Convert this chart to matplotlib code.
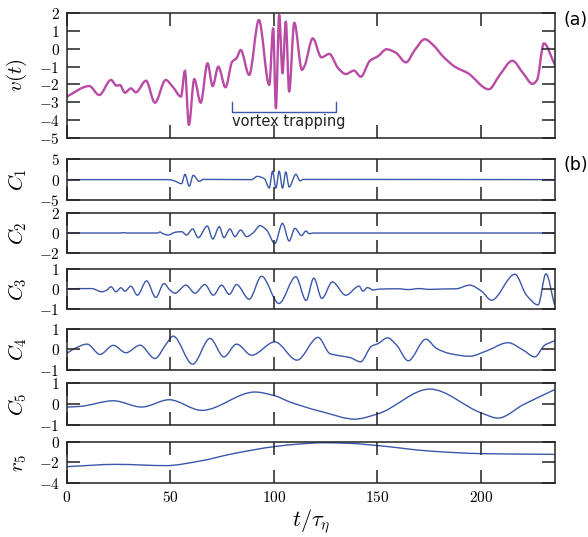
import numpy as np
import matplotlib.pyplot as plt
from matplotlib.path import Path
from matplotlib.patches import PathPatch

plt.rcParams['font.family'] = 'cmr10'
plt.rcParams['mathtext.fontset'] = 'cm'
plt.rcParams['axes.formatter.use_mathtext'] = True

# velocity signal v(t)
v_t = [0, 10.9, 15.7, 21.4, 24.1, 25.7, 28.1, 31.0, 33.4, 38.3, 42.6, 47.8, 51.4,
       55.2, 57.1, 59.0, 61.6, 64.7, 68.0, 70.5, 73.2, 76.7, 79.9, 82.0, 84.0,
       88.1, 92.8, 97.8, 99.7, 101.0, 102.6, 104.2, 105.8, 107.4, 109.9, 113.6,
       115.0, 118.8, 123.0, 126.8, 131.1, 134.8, 138.7, 142.0, 146.4, 150.4,
       154.4, 158.9, 163.8, 168.1, 172.9, 176.9, 181.8, 187.4, 193.8, 203.8,
       209.1, 215.2, 220.4, 224.9, 227.1, 230.4, 235.5]
v_val = [-2.68, -2.09, -2.59, -1.75, -2.07, -2.03, -2.46, -2.22, -2.44, -1.79,
         -3.02, -1.75, -2.16, -2.68, -1.23, -4.26, -1.70, -3.02, -0.82, -2.09,
         -1.01, -2.16, -0.73, -0.54, -0.08, -1.47, 1.59, -2.03, 1.13, -3.33,
         1.87, -1.38, 1.50, -2.40, 1.44, -1.19, -0.92, 0.57, -0.49, -0.30,
         -1.10, -1.42, -1.23, -1.57, -0.68, -0.42, -0.04, -0.23, -0.77, -0.08,
         0.52, 0.20, -0.45, -1.01, -1.38, -2.27, -1.47, -0.68, -1.38, -1.97,
         -1.75, 0.29, -0.86]

# intrinsic modes C1..C5 and residual r5
c1_t = [0, 49.0, 52.0, 55.5, 57.1, 59.2, 61.1, 64.0, 65.9, 89.3, 92.0, 95.5,
        97.8, 99.4, 101.0, 102.6, 104.2, 105.8, 107.4, 110.7, 112.6, 114.2, 235.5]
c1_val = [0, 0, -0.3, -1.0, 1.3, -1.6, 1.06, -0.42, 0.05, 0, 0.8, 0.2,
          -2.06, 2.1, -2.1, 2.1, -2.1, 1.9, -1.8, 1.3, -0.3, 0.05, 0]

c2_t = [0, 26.0, 27.5, 29.0, 44.0, 45.0, 46.5, 49.0, 52.3, 55.5, 57.9, 60.8,
        63.5, 67.9, 70.5, 73.7, 75.9, 78.8, 81.2, 84.0, 86.9, 90.1, 93.3, 96.5,
        100.5, 104.2, 107.4, 110.2, 113.4, 115.5, 117.1, 119.0, 235.5]
c2_val = [0, 0, 0.04, 0, 0, 0.1, -0.07, -0.2, 0.07, 0.13, -0.2, 0.4, -0.46,
          0.69, -0.59, 0.62, -0.46, 0.4, -0.36, 0.3, -0.36, 0.03, 0.72, 0.3,
          -1.02, 0.95, -0.79, 0.46, -0.26, 0.2, -0.07, 0, 0]

c3_t = [0, 12.1, 16.9, 19.3, 21.4, 23.8, 26.2, 28.1, 31.0, 34.1, 38.6, 43.0,
        47.0, 49.9, 52.3, 57.6, 61.9, 66.7, 70.8, 74.8, 78.5, 82.0, 88.1, 94.1,
        102.5, 110.6, 115.6, 119.3, 123.2, 128.3, 134.7, 141.2, 143.0, 145.2,
        148.0, 150.5, 160.0, 165.0, 170.0, 175.0, 182.0, 188.0, 194.6, 200.3,
        205.1, 216.4, 222.0, 227.6, 231.4, 235.5]
c3_val = [0.02, 0.03, -0.13, -0.05, 0.12, -0.13, 0.07, -0.1, 0.15, -0.3, 0.41,
          -0.41, 0.28, -0.05, -0.2, 0.2, -0.2, 0.23, -0.3, 0.2, -0.26, 0.23,
          -0.5, 0.64, -0.71, 0.62, -0.56, 0.55, -0.46, 0.36, -0.3, 0.15, -0.1,
          0.08, -0.04, 0, 0.02, -0.02, 0.03, -0.01, 0.01, 0.02, 0.2, -0.1,
          -0.55, 0.74, -0.3, -0.78, 0.76, -0.76]

c4_t = [0, 3.0, 9.9, 16.1, 22.5, 28.6, 35.4, 42.6, 48.2, 51.4, 60.8, 69.2,
        75.9, 82.0, 89.3, 100.5, 111.2, 121.4, 127.1, 131.9, 136.7, 141.9,
        147.2, 150.4, 154.9, 159.3, 164.9, 173.4, 178.6, 185.0, 194.6, 202.7,
        213.1, 220.4, 226.0, 230.8, 235.5]
c4_val = [-0.2, 0.0, 0.26, -0.24, 0.2, -0.16, 0.21, -0.44, 0.29, 0.65, -0.72,
          0.54, -0.36, 0.26, -0.28, 0.37, -0.52, 0.59, -0.2, -0.31, -0.39,
          -0.6, 0.16, 0.29, 0.57, 0.21, -0.55, 0.5, 0.05, -0.2, -0.33, -0.07,
          0.33, -0.03, -0.36, 0.21, 0.42]

c5_t = [0, 6.4, 22.5, 36.2, 49.5, 65.2, 90.9, 100.5, 107.8, 112.6, 123.8,
        139.1, 150.4, 175.3, 200.3, 208.3, 220.4, 235.5]
c5_val = [-0.14, -0.11, 0.16, -0.14, 0.21, -0.3, 0.58, 0.40, 0.1, -0.06,
          -0.38, -0.72, -0.46, 0.72, -0.43, -0.67, -0.03, 0.69]

r5_t = [0, 24.0, 48.0, 64.4, 80.4, 100.0, 112.6, 123.8, 136.7, 150.4, 175.3,
        200.3, 235.5]
r5_val = [-2.4, -2.18, -2.3, -1.86, -1.15, -0.48, -0.22, -0.1, -0.16, -0.38,
          -0.9, -1.15, -1.22]

trap_start, trap_end = 80, 130

magenta = '#b94ba5'
blue = '#3b56aa'


def smooth_path(t, y):
    """Bezier path through the points, with monotone (pchip-style) tangents."""
    t = np.asarray(t, float)
    y = np.asarray(y, float)
    h = np.diff(t)
    d = np.diff(y) / h
    m = np.zeros_like(y)
    m[0], m[-1] = d[0], d[-1]
    for k in range(1, len(y) - 1):
        if d[k - 1] * d[k] > 0:
            w1 = 2 * h[k] + h[k - 1]
            w2 = h[k] + 2 * h[k - 1]
            m[k] = (w1 + w2) / (w1 / d[k - 1] + w2 / d[k])
    verts = [(t[0], y[0])]
    codes = [Path.MOVETO]
    for k in range(len(h)):
        verts += [(t[k] + h[k] / 3, y[k] + m[k] * h[k] / 3),
                  (t[k + 1] - h[k] / 3, y[k + 1] - m[k + 1] * h[k] / 3),
                  (t[k + 1], y[k + 1])]
        codes += [Path.CURVE4] * 3
    return Path(verts, codes)


fig = plt.figure(figsize=(5.88, 5.37), dpi=100)
left, width = 0.1134, 0.8313
boxes = [
    (0.7425, 0.2339),
    (0.6276, 0.0758),
    (0.5283, 0.0756),
    (0.4240, 0.0750),
    (0.3110, 0.0764),
    (0.2086, 0.0777),
    (0.1000, 0.0775),
]
axes = [fig.add_axes([left, b, width, h]) for b, h in boxes]

panels = [
    (v_t, v_val, (-5, 2), range(-5, 3), r'$v(t)$'),
    (c1_t, c1_val, (-5, 5), [-5, 0, 5], r'$C_1$'),
    (c2_t, c2_val, (-2, 2), [-2, 0, 2], r'$C_2$'),
    (c3_t, c3_val, (-1, 1), [-1, 0, 1], r'$C_3$'),
    (c4_t, c4_val, (-1, 1), [-1, 0, 1], r'$C_4$'),
    (c5_t, c5_val, (-1, 1), [-1, 0, 1], r'$C_5$'),
    (r5_t, r5_val, (-4, 0), [-4, -2, 0], r'$r_5$'),
]

for i, (ax, (t, y, ylim, yticks, label)) in enumerate(zip(axes, panels)):
    color, lw = (magenta, 1.7) if i == 0 else (blue, 1.0)
    ax.add_patch(PathPatch(smooth_path(t, y), fill=False, edgecolor=color,
                           lw=lw, capstyle='round', joinstyle='round'))
    ax.set_xlim(0, 236)
    ax.set_ylim(*ylim)
    ax.set_yticks(list(yticks))
    ax.set_xticks([0, 50, 100, 150, 200])
    ax.tick_params(direction='in', top=True, right=True, length=9.5,
                   width=1.1, labelsize=11, color='#222222', pad=5)
    for s in ax.spines.values():
        s.set_linewidth(1.1)
        s.set_color('#222222')
    ax.set_ylabel(label, fontsize=15)
    ax.yaxis.set_label_coords(-0.077, 0.5)
    if i < len(axes) - 1:
        ax.set_xticklabels([])

axes[-1].set_xlabel(r'$t/\tau_\eta$', fontsize=16, labelpad=1)

# vortex trapping bracket
ax = axes[0]
ax.plot([trap_start, trap_start, trap_end, trap_end], [-3.0, -3.55, -3.55, -3.0],
        color=blue, lw=1.0)
ax.text(trap_start, -3.62, 'vortex trapping', family='DejaVu Sans',
        fontsize=10.5, va='top', ha='left', color='#222222')

fig.text(0.958, 0.962, '(a)', family='DejaVu Sans', fontsize=12.5, va='center')
fig.text(0.958, 0.692, '(b)', family='DejaVu Sans', fontsize=12.5, va='center')

fig.savefig('out.png', dpi=100)
